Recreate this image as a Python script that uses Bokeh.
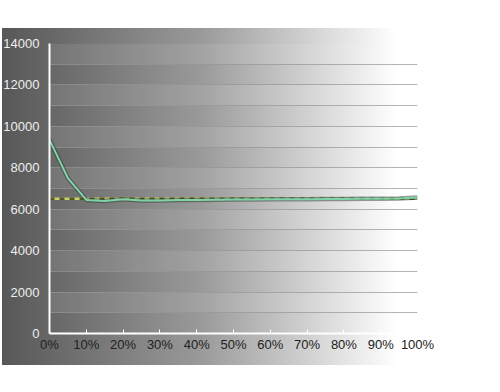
from bokeh.plotting import figure
from bokeh.models import FixedTicker, PrintfTickFormatter, Range1d, NumeralTickFormatter
from bokeh.embed import file_html
from bokeh.resources import INLINE

# data
x_pct = [0, 5, 10, 15, 20, 25, 30, 35, 40, 45, 50, 55, 60, 65, 70, 75, 80, 85, 90, 95, 100]
series_main = [9350, 7500, 6450, 6400, 6480, 6420, 6420, 6440, 6450, 6460, 6470,
               6470, 6480, 6480, 6480, 6490, 6490, 6500, 6500, 6520, 6560]
ref_x = [0, 100]
ref_y = [6500, 6500]
y_ticks = [0, 2000, 4000, 6000, 8000, 10000, 12000, 14000]
x_ticks = [0, 10, 20, 30, 40, 50, 60, 70, 80, 90, 100]

p = figure(width=500, height=392, output_backend="svg", toolbar_location=None,
           x_range=Range1d(0, 100), y_range=Range1d(0, 14000),
           min_border_left=48, min_border_right=83, min_border_top=43, min_border_bottom=59)

p.styles = {
    "background-image": "linear-gradient(to right, #575757 0px, #9a9a9a 200px, #ffffff 395px)",
    "background-repeat": "no-repeat",
    "background-size": "498px 337px",
    "background-position": "2px 28px",
}
p.border_fill_alpha = 0
p.background_fill_alpha = 0
p.outline_line_color = None

# grid: lines every 1000, alternating bands
p.xgrid.visible = False
p.ygrid.ticker = FixedTicker(ticks=list(range(0, 14001, 1000)))
p.ygrid.grid_line_color = "#959595"
p.ygrid.grid_line_alpha = 0.7
p.ygrid.grid_line_width = 1
p.ygrid.band_fill_color = "white"
p.ygrid.band_fill_alpha = 0.09

# axes
p.yaxis.ticker = FixedTicker(ticks=y_ticks)
p.yaxis.formatter = NumeralTickFormatter(format="0")
p.yaxis.axis_line_color = "white"
p.yaxis.axis_line_width = 2
p.yaxis.major_tick_line_color = None
p.yaxis.minor_tick_line_color = None
p.yaxis.major_label_text_color = "#eeeeee"
p.yaxis.major_label_text_font = "Liberation Sans"
p.yaxis.major_label_text_font_size = "13px"
p.yaxis.major_label_standoff = 4

p.xaxis.ticker = FixedTicker(ticks=x_ticks)
p.xaxis.formatter = PrintfTickFormatter(format="%d%%")
p.xaxis.axis_line_color = "white"
p.xaxis.axis_line_width = 2
p.xaxis.major_tick_line_color = "white"
p.xaxis.major_tick_in = 4
p.xaxis.major_tick_out = 0
p.xaxis.minor_tick_line_color = None
p.xaxis.major_label_text_color = "#222222"
p.xaxis.major_label_text_font = "Liberation Sans"
p.xaxis.major_label_text_font_size = "13px"
p.xaxis.major_label_standoff = 3

# reference dashed line
p.line(ref_x, ref_y, line_color="#c8d06a", line_width=2.5)
p.line(ref_x, ref_y, line_color="#55552c", line_width=2.5, line_dash="5 5")

# main series with dark outline
p.line(x_pct, series_main, line_color="#2f3d35", line_width=4.5, line_alpha=0.5)
p.line(x_pct, series_main, line_color="#7fd3a8", line_width=2)

open("out.html", "w").write(file_html(p, INLINE))
